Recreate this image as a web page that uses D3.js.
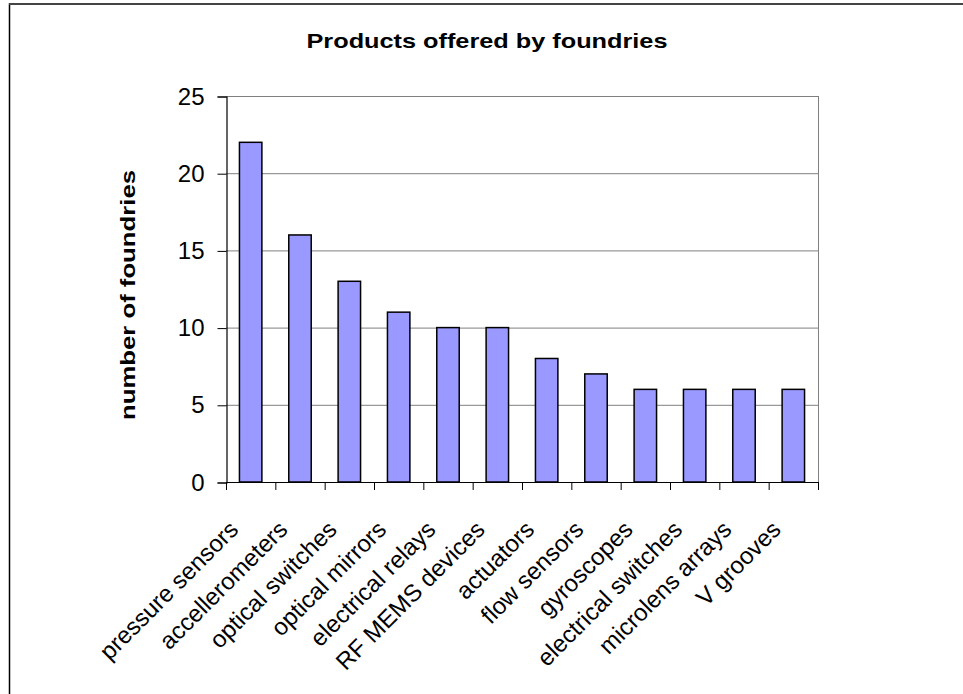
<!DOCTYPE html>
<html>
<head>
<meta charset="utf-8">
<script src="https://cdn.jsdelivr.net/npm/d3@7"></script>
<style>
  html, body { margin: 0; padding: 0; background: #fff; }
  svg { display: block; font-family: "Liberation Sans", Arial, sans-serif; }
</style>
</head>
<body>
<svg id="chart" width="963" height="694"></svg>
<script>
// Product categories and how many foundries offer each
const categories = [
  "pressure sensors", "accellerometers", "optical switches", "optical mirrors",
  "electrical relays", "RF MEMS devices", "actuators", "flow sensors",
  "gyroscopes", "electrical switches", "microlens arrays", "V grooves"
];
const foundryCounts = [22, 16, 13, 11, 10, 10, 8, 7, 6, 6, 6, 6];
const yTicks = [0, 5, 10, 15, 20, 25];

const titleText = "Products offered by foundries";
const yTitleText = "number of foundries";

const svg = d3.select("#chart");

// chart-area frame
svg.append("rect")
  .attr("x", 9.5).attr("y", 4)
  .attr("width", 1000).attr("height", 720)
  .attr("fill", "#fff")
  .attr("stroke", "#000").attr("stroke-width", 1.5);
svg.append("line")
  .attr("x1", 9).attr("x2", 963).attr("y1", 4).attr("y2", 4)
  .attr("stroke", "#444").attr("stroke-width", 2);

const plot = { left: 226, right: 818, top: 96, bottom: 482 };

const x = d3.scaleBand()
  .domain(categories)
  .range([plot.left, plot.right])
  .paddingInner(0.545)
  .paddingOuter(0.2725);

const xBand = d3.scaleBand()
  .domain(categories)
  .range([plot.left, plot.right])
  .padding(0);

const y = d3.scaleLinear()
  .domain([0, 25])
  .range([plot.bottom, plot.top]);

// horizontal gridlines
svg.append("g")
  .selectAll("line")
  .data(yTicks.filter(d => d > 0))
  .join("line")
  .attr("x1", plot.left).attr("x2", plot.right)
  .attr("y1", d => y(d) + 0.5).attr("y2", d => y(d) + 0.5)
  .attr("stroke", "#808080").attr("stroke-width", 1);

// right edge of plot area
svg.append("line")
  .attr("x1", plot.right + 0.5).attr("x2", plot.right + 0.5)
  .attr("y1", plot.top).attr("y2", plot.bottom)
  .attr("stroke", "#808080").attr("stroke-width", 1);

// bars
svg.append("g")
  .selectAll("rect")
  .data(categories)
  .join("rect")
  .attr("x", d => x(d))
  .attr("y", (d, i) => y(foundryCounts[i]))
  .attr("width", x.bandwidth())
  .attr("height", (d, i) => y(0) - y(foundryCounts[i]))
  .attr("fill", "#9999FF")
  .attr("stroke", "#000").attr("stroke-width", 1.5);

// y axis
const yAxis = d3.axisLeft(y)
  .tickValues(yTicks)
  .tickSize(9)
  .tickPadding(13)
  .tickFormat(d3.format("d"));
const gy = svg.append("g")
  .attr("transform", `translate(${plot.left + 0.5},0.5)`)
  .call(yAxis);
gy.select(".domain").attr("stroke", "#000").attr("stroke-width", 1.2);
gy.selectAll(".tick line").attr("stroke", "#000");
gy.selectAll(".tick text")
  .attr("font-family", "Liberation Sans, Arial, sans-serif")
  .attr("font-size", 24)
  .attr("fill", "#000");

// x axis: ticks on category boundaries
const boundaries = categories.map(c => xBand(c)).concat([plot.right]);
const gx = svg.append("g");
gx.append("line")
  .attr("x1", plot.left).attr("x2", plot.right + 1)
  .attr("y1", plot.bottom + 0.5).attr("y2", plot.bottom + 0.5)
  .attr("stroke", "#000").attr("stroke-width", 1.2);
gx.selectAll("line.tick")
  .data(boundaries)
  .join("line")
  .attr("class", "tick")
  .attr("x1", d => d + 0.5).attr("x2", d => d + 0.5)
  .attr("y1", plot.bottom).attr("y2", plot.bottom + 8)
  .attr("stroke", "#000").attr("stroke-width", 1);

// rotated category labels
gx.selectAll("text")
  .data(categories)
  .join("text")
  .attr("transform", d => {
    const cx = xBand(d) + xBand.bandwidth() / 2 - 11;
    return `translate(${cx},531) rotate(-45)`;
  })
  .attr("text-anchor", "end")
  .attr("font-size", 24)
  .attr("fill", "#000")
  .text(d => d);

// chart title
svg.append("text")
  .attr("x", 487).attr("y", 48)
  .attr("text-anchor", "middle")
  .attr("font-size", 21)
  .attr("font-weight", "bold")
  .attr("textLength", 361)
  .attr("lengthAdjust", "spacingAndGlyphs")
  .text(titleText);

// y axis title
svg.append("text")
  .attr("transform", "translate(135,295) rotate(-90)")
  .attr("text-anchor", "middle")
  .attr("font-size", 21)
  .attr("font-weight", "bold")
  .attr("textLength", 250)
  .attr("lengthAdjust", "spacingAndGlyphs")
  .text(yTitleText);
</script>
</body>
</html>
